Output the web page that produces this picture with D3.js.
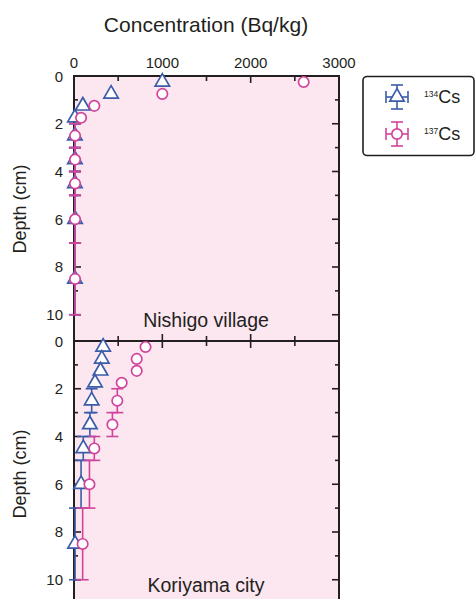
<!DOCTYPE html>
<html><head><meta charset="utf-8">
<script src="https://cdn.jsdelivr.net/npm/d3@7"></script>
<style>body{margin:0;background:#fff;}svg{display:block;font-family:"Liberation Sans",Arial,sans-serif;}</style>
</head><body>
<script>
// ---- data ----
const depths      = [0.25, 0.75, 1.25, 1.75, 2.5, 3.5, 4.5, 6, 8.5];
const depthTop    = [0, 0.5, 1, 1.5, 2, 3, 4, 5, 7];
const depthBottom = [0.5, 1, 1.5, 2, 3, 4, 5, 7, 10];
const nishigoCs134  = [1000, 420, 100, 10, 10, 10, 10, 12, 10];
const nishigoCs137  = [2600, 1000, 230, 80, 12, 12, 12, 12, 12];
const koriyamaCs134 = [330, 315, 300, 238, 200, 180, 105, 80, 12];
const koriyamaCs137 = [810, 710, 710, 540, 490, 435, 230, 175, 98];
const panelNames = ["Nishigo village", "Koriyama city"];
const xTickLabels = [0, 1000, 2000, 3000];
const yTickLabels = [0, 2, 4, 6, 8, 10];
const seriesNames = ["134", "137"];

const W = 475, H = 599;
const ink = "#231f20", blue = "#3b5ca8", mag = "#d2449b", bg = "#fce6f0";
const svg = d3.select("body").append("svg").attr("width", W).attr("height", H);

const x = d3.scaleLinear().domain([0, 3000]).range([74, 339]);
const panelH = 265, tops = [76, 341];
const panels = [
  {name: panelNames[0], s134: nishigoCs134, s137: nishigoCs137},
  {name: panelNames[1], s134: koriyamaCs134, s137: koriyamaCs137}
];

svg.append("text").attr("x", 206).attr("y", 32).attr("text-anchor", "middle")
  .attr("font-size", 21).attr("fill", ink).text("Concentration (Bq/kg)");

xTickLabels.forEach(v => svg.append("text").attr("x", x(v)).attr("y", 68)
  .attr("text-anchor", "middle").attr("font-size", 15).attr("fill", ink).text(v));

panels.forEach((p, pi) => {
  const top = tops[pi];
  const y = d3.scaleLinear().domain([0, 11.1]).range([top, top + panelH]);
  const g = svg.append("g");
  g.append("rect").attr("x", x(0)).attr("y", top).attr("width", x(3000) - x(0))
    .attr("height", panelH).attr("fill", bg).attr("stroke", ink).attr("stroke-width", 2);
  d3.range(500, 3000, 500).forEach(v => {
    const len = v % 1000 === 0 ? 7 : 5;
    g.append("line").attr("x1", x(v)).attr("x2", x(v)).attr("y1", top).attr("y2", top + len)
      .attr("stroke", ink).attr("stroke-width", 1.6);
    g.append("line").attr("x1", x(v)).attr("x2", x(v)).attr("y1", top + panelH).attr("y2", top + panelH - len)
      .attr("stroke", ink).attr("stroke-width", 1.6);
  });
  d3.range(1, 11, 1).forEach(d => {
    const len = d % 2 === 0 ? 7 : 4;
    g.append("line").attr("x1", x(0)).attr("x2", x(0) + len).attr("y1", y(d)).attr("y2", y(d))
      .attr("stroke", ink).attr("stroke-width", 1.6);
    g.append("line").attr("x1", x(3000)).attr("x2", x(3000) - len).attr("y1", y(d)).attr("y2", y(d))
      .attr("stroke", ink).attr("stroke-width", 1.6);
  });
  yTickLabels.forEach(d => g.append("text").attr("x", 63).attr("y", y(d) + 5.5)
    .attr("text-anchor", "end").attr("font-size", 15).attr("fill", ink).text(d));
  g.append("text").attr("transform", `translate(26,${top + 133}) rotate(-90)`)
    .attr("text-anchor", "middle").attr("font-size", 18).attr("fill", ink).text("Depth (cm)");
  g.append("text").attr("x", 206).attr("y", top + 251).attr("text-anchor", "middle")
    .attr("font-size", 19.5).attr("fill", ink).text(p.name);

  const drawErr = (vals, col) => vals.forEach((v, i) => {
    if (depthBottom[i] - depthTop[i] <= 0.5) return;
    const cx = x(v);
    g.append("line").attr("x1", cx).attr("x2", cx).attr("y1", y(depthTop[i])).attr("y2", y(depthBottom[i]))
      .attr("stroke", col).attr("stroke-width", 1.6);
    [depthTop[i], depthBottom[i]].forEach(d => g.append("line").attr("x1", cx - 6).attr("x2", cx + 6)
      .attr("y1", y(d)).attr("y2", y(d)).attr("stroke", col).attr("stroke-width", 1.6));
  });
  drawErr(p.s134, blue);
  p.s134.forEach((v, i) => g.append("path").attr("d", d3.symbol(d3.symbolTriangle, 90)())
    .attr("transform", `translate(${x(v)},${y(depths[i])})`)
    .attr("fill", "#fff").attr("stroke", blue).attr("stroke-width", 1.7));
  drawErr(p.s137, mag);
  p.s137.forEach((v, i) => g.append("circle").attr("cx", x(v)).attr("cy", y(depths[i])).attr("r", 5.2)
    .attr("fill", "#fff").attr("stroke", mag).attr("stroke-width", 1.7));
});

// legend
const lg = svg.append("g");
lg.append("rect").attr("x", 363).attr("y", 76.5).attr("width", 111).attr("height", 79).attr("rx", 4)
  .attr("fill", "#fff").attr("stroke", ink).attr("stroke-width", 1.6);
[[blue, 97], [mag, 134]].forEach(([col, cy], i) => {
  const cx = 397;
  const ln = (x1, y1, x2, y2) => lg.append("line").attr("x1", x1).attr("x2", x2).attr("y1", y1).attr("y2", y2)
    .attr("stroke", col).attr("stroke-width", 1.6);
  ln(cx - 11, cy, cx + 11, cy);
  ln(cx, cy - 12, cx, cy + 12);
  ln(cx - 11, cy - 6, cx - 11, cy + 6);
  ln(cx + 11, cy - 6, cx + 11, cy + 6);
  ln(cx - 6, cy - 12, cx + 6, cy - 12);
  ln(cx - 6, cy + 12, cx + 6, cy + 12);
  if (i === 0) lg.append("path").attr("d", d3.symbol(d3.symbolTriangle, 90)()).attr("transform", `translate(${cx},${cy})`)
    .attr("fill", "#fff").attr("stroke", col).attr("stroke-width", 1.7);
  else lg.append("circle").attr("cx", cx).attr("cy", cy).attr("r", 5.2).attr("fill", "#fff").attr("stroke", col).attr("stroke-width", 1.7);
  const t = lg.append("text").attr("x", 424).attr("y", cy + 6).attr("fill", ink);
  t.append("tspan").attr("font-size", 8.5).attr("dy", -6).text(seriesNames[i]);
  t.append("tspan").attr("font-size", 18).attr("dy", 6).text("Cs");
});
</script>
</body></html>
